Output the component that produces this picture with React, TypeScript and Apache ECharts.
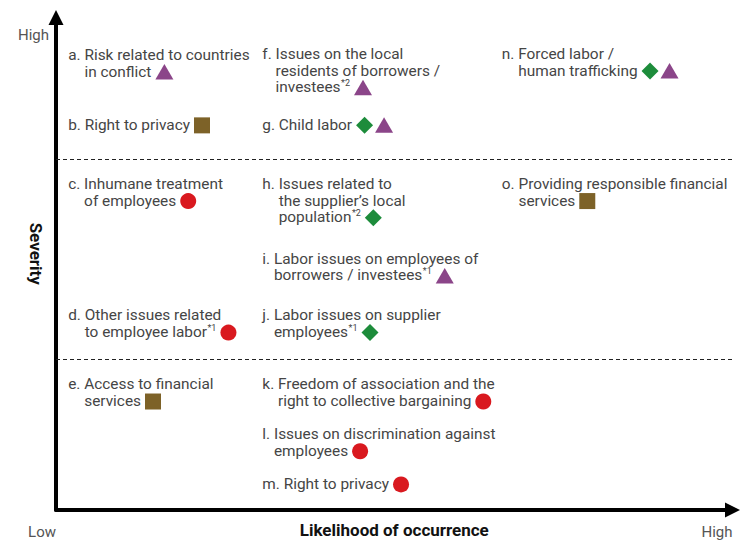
import React, { useEffect, useRef } from "react";
import * as echarts from "echarts";

// ---- data ----
const itemLetters = ["a", "b", "c", "d", "e", "f", "g", "h", "i", "j", "k", "l", "m", "n", "o"];
const itemTexts: string[][] = [
  ["Risk related to countries", "in conflict"],
  ["Right to privacy"],
  ["Inhumane treatment", "of employees"],
  ["Other issues related", "to employee labor"],
  ["Access to financial", "services"],
  ["Issues on the local", "residents of borrowers /", "investees"],
  ["Child labor"],
  ["Issues related to", "the supplier\u2019s local", "population"],
  ["Labor issues on employees of", "borrowers / investees"],
  ["Labor issues on supplier", "employees"],
  ["Freedom of association and the", "right to collective bargaining"],
  ["Issues on discrimination against", "employees"],
  ["Right to privacy"],
  ["Forced labor /", "human trafficking"],
  ["Providing responsible financial", "services"],
];
const itemNotes = ["", "", "", "*1", "", "*2", "", "*2", "*1", "*1", "", "", "", "", ""];
const itemMarkers: string[][] = [
  ["triangle"], ["square"], ["circle"], ["circle"], ["square"],
  ["triangle"], ["diamond", "triangle"], ["diamond"], ["triangle"], ["diamond"],
  ["circle"], ["circle"], ["circle"],
  ["diamond", "triangle"], ["square"],
];
// likelihood (x, 0-100) and severity (y, 0-100) of each item
const itemLikelihood = [1.8, 1.8, 1.8, 1.8, 1.8, 30.5, 30.5, 30.5, 30.5, 30.5, 30.5, 30.5, 30.5, 65.9, 65.9];
const itemSeverity = [92.4, 78.2, 66.2, 39.5, 25.5, 92.6, 78.2, 66.2, 51.0, 39.5, 25.5, 15.4, 5.3, 92.6, 66.2];
const severityBands = [30.7, 71.2];
const xTickLabels = ["Low", "High"];
const yTickLabels = ["High"];

// ---- styles ----
const FAMILY = "Roboto";
const FS = 15.4;
const NOTE_FS = 9;
const LINE_H = 16.6;
const TEXT_COLOR = "#454545";
const GAP = 4;
const MARKER_COLORS: Record<string, string> = {
  circle: "#d9191f",
  triangle: "#8b4589",
  diamond: "#1d8c3b",
  square: "#7d6228",
};

let ctx: CanvasRenderingContext2D | null = null;
function measure(text: string, size: number) {
  if (!ctx) ctx = document.createElement("canvas").getContext("2d");
  ctx!.font = `${size}px ${FAMILY}`;
  return ctx!.measureText(text).width;
}

export default function App() {
  const ref = useRef<HTMLDivElement>(null);
  useEffect(() => {
    if (!ref.current) return;
    const chart = echarts.init(ref.current, null, { renderer: "svg" });
    const renderItem = (params: any, api: any) => {
      const i = params.dataIndex;
      const pt = api.coord([api.value(0), api.value(1)]);
      const px = pt[0];
      const py = pt[1];
      const children: any[] = [];
      const prefix = itemLetters[i] + ". ";
      const indent = measure(prefix, FS);
      let endX = px;
      let lastY = py;
      itemTexts[i].forEach((ln, k) => {
        const text = k === 0 ? prefix + ln : ln;
        const x = px + (k === 0 ? 0 : indent);
        const y = py + k * LINE_H;
        children.push({
          type: "text",
          x,
          y,
          style: { text, fontSize: FS, fontFamily: FAMILY, fill: TEXT_COLOR, verticalAlign: "middle", align: "left" },
        });
        endX = x + measure(text, FS);
        lastY = y;
      });
      const note = itemNotes[i];
      if (note) {
        children.push({
          type: "text",
          x: endX + 0.5,
          y: lastY - 4,
          style: { text: note, fontSize: NOTE_FS, fontFamily: FAMILY, fill: TEXT_COLOR, verticalAlign: "middle", align: "left" },
        });
        endX += measure(note, NOTE_FS) + 0.5;
      }
      let mx = endX + GAP;
      const cy = lastY + 0.5;
      itemMarkers[i].forEach((m) => {
        const fill = MARKER_COLORS[m];
        if (m === "circle") {
          children.push({ type: "circle", shape: { cx: mx + 8, cy, r: 8 }, style: { fill } });
          mx += 16;
        } else if (m === "square") {
          children.push({ type: "rect", shape: { x: mx, y: cy - 8, width: 16, height: 16 }, style: { fill } });
          mx += 16;
        } else if (m === "triangle") {
          children.push({
            type: "polygon",
            shape: { points: [[mx, cy + 7.5], [mx + 18, cy + 7.5], [mx + 9, cy - 8]] },
            style: { fill },
          });
          mx += 18;
        } else if (m === "diamond") {
          children.push({
            type: "polygon",
            shape: { points: [[mx + 8.5, cy - 8.5], [mx + 17, cy], [mx + 8.5, cy + 8.5], [mx, cy]] },
            style: { fill },
          });
          mx += 17;
        }
        mx += 2;
      });
      return { type: "group", children };
    };

    chart.setOption({
      animation: false,
      backgroundColor: "#fff",
      grid: { left: 56, right: 9.5, top: 17.5, bottom: 30, containLabel: false, outerBoundsMode: "none" },
      xAxis: {
        type: "value",
        min: 0,
        max: 100,
        interval: 100,
        axisLine: {
          show: true,
          onZero: false,
          symbol: ["none", "triangle"],
          symbolSize: [15, 15],
          lineStyle: { color: "#000", width: 4 },
        },
        axisTick: { show: false },
        splitLine: { show: false },
        axisLabel: {
          showMinLabel: true,
          showMaxLabel: true,
          formatter: (v: number) => (v === 0 ? xTickLabels[0] : v === 100 ? xTickLabels[1] : ""),
          align: "right",
          margin: 14,
          fontSize: 15,
          fontFamily: FAMILY,
          color: "#555",
        },
        name: "Likelihood of occurrence",
        nameLocation: "middle",
        nameGap: 11,
        nameMoveOverlap: false,
        nameTextStyle: { fontSize: 17, fontWeight: "bold", fontFamily: FAMILY, color: "#111" },
      },
      yAxis: {
        type: "value",
        min: 0,
        max: 100,
        interval: 100,
        axisLine: {
          show: true,
          onZero: false,
          symbol: ["none", "triangle"],
          symbolSize: [15, 15],
          lineStyle: { color: "#000", width: 4 },
        },
        axisTick: { show: false },
        splitLine: { show: false },
        axisLabel: {
          showMaxLabel: true,
          formatter: (v: number) => (v === 100 ? yTickLabels[0] : ""),
          verticalAlign: "top",
          padding: [10, 0, 0, 0],
          margin: 7,
          fontSize: 15,
          fontFamily: FAMILY,
          color: "#555",
        },
        name: "Severity",
        nameLocation: "middle",
        nameRotate: -90,
        nameGap: 12,
        nameMoveOverlap: false,
        nameTextStyle: { fontSize: 17, fontWeight: "bold", fontFamily: FAMILY, color: "#111", padding: [0, 20, 0, 0] },
      },
      series: [
        {
          type: "custom",
          renderItem,
          clip: false,
          data: itemLikelihood.map((x, i) => [x, itemSeverity[i]]),
          encode: { x: 0, y: 1 },
          markLine: {
            silent: true,
            symbol: "none",
            label: { show: false },
            lineStyle: { type: [4, 3], color: "#222", width: 1 },
            data: severityBands.map((v) => ({ yAxis: v })),
          },
        },
      ],
    });
    return () => chart.dispose();
  }, []);
  return <div ref={ref} style={{ position: "fixed", left: 0, top: 0, width: 742, height: 540, background: "#fff" }} />;
}
